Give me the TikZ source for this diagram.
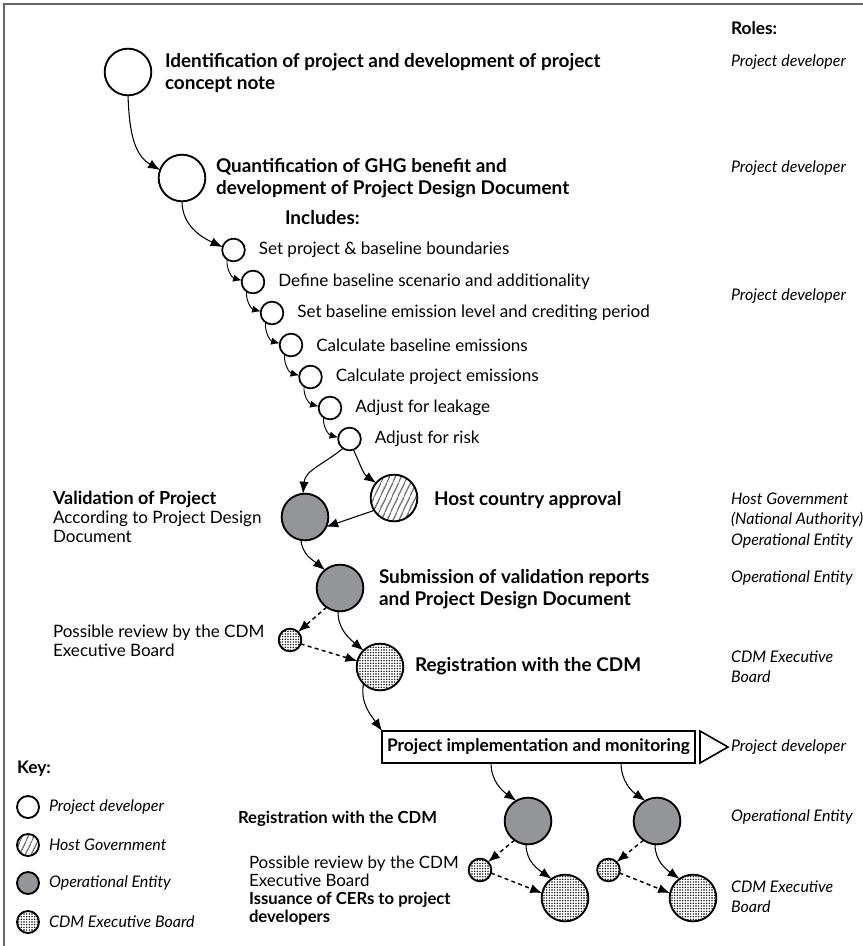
\documentclass[tikz,border=0pt]{standalone}
\usepackage{fontspec}
\setmainfont{Lato}
\usetikzlibrary{arrows.meta,patterns.meta}
\definecolor{opgray}{RGB}{148,149,153}

\begin{document}
\begin{tikzpicture}[x=0.75pt,y=-0.75pt,
  every node/.style={inner sep=0pt,outer sep=0pt},
  dev/.style={draw,circle,line width=1.4pt,fill=white,minimum size=35pt},
  sdev/.style={draw,circle,line width=1.3pt,fill=white,minimum size=17pt},
  gov/.style={draw,circle,line width=1.4pt,pattern={Lines[angle=65,distance=4pt,line width=.7pt]},minimum size=35pt},
  ope/.style={draw,circle,line width=1.4pt,fill=opgray,minimum size=35pt},
  cdm/.style={draw,circle,line width=1.4pt,pattern={Dots[distance=2pt,radius=.6pt]},minimum size=35pt},
  head/.style={anchor=west,align=left,font=\fontsize{14.2}{17}\selectfont\bfseries},
  txt/.style={anchor=west,align=left,font=\fontsize{12.8}{14}\selectfont},
  role/.style={anchor=west,align=left,font=\fontsize{12}{15}\selectfont\itshape},
  flow/.style={-{Latex[length=9pt,width=7pt]},line width=.8pt},
  sflow/.style={-{Latex[length=6.5pt,width=5.5pt]},line width=.7pt},
  dflow/.style={flow,line width=1.1pt,dash pattern=on 3pt off 2.5pt}]
  \useasboundingbox (0,0) rectangle (863,946);
  \draw[line width=1pt,black!60] (4,946) -- (4,4) -- (863,4);

  % roles column
  \node[head,font=\fontsize{13}{15}\selectfont\bfseries] (roles) at (731,28) {Roles:};
  \node[role] (r1) at (731,62) {Project developer};
  \node[role] (r2) at (731,168) {Project developer};
  \node[role] (r3) at (731,296) {Project developer};
  \node[role] (r4) at (731,510) {Host Government\\(National Authority)};
  \node[role] (r5) at (731,541) {Operational Entity};
  \node[role] (r6) at (731,578) {Operational Entity};
  \node[role] (r7) at (731,667) {CDM Executive\\Board};
  \node[role] (r9) at (731,817) {Operational Entity};
  \node[role] (r10) at (731,897) {CDM Executive\\Board};

  % project developer steps
  \path (128,72) node[dev] (c1) {} (182,178) node[dev] (c2) {};
  \node[head] (t1) at (165,73) {Identification of project and development of project\\concept note};
  \node[head] (t2) at (216,178) {Quantification of GHG benefit and\\development of Project Design Document};
  \node[head] (inc) at (285,218) {Includes:};
  \path (233.5,250) node[sdev] (s1) {} (253,282) node[sdev] (s2) {}
    (272,313) node[sdev] (s3) {} (291,345) node[sdev] (s4) {}
    (310.5,377) node[sdev] (s5) {} (330,408) node[sdev] (s6) {}
    (349.5,439) node[sdev] (s7) {};
  \node[txt] (l1) at ([xshift=10.5pt]s1.east) {Set project \& baseline boundaries};
  \node[txt] (l2) at ([xshift=10.5pt]s2.east) {Define baseline scenario and additionality};
  \node[txt] (l3) at ([xshift=10.5pt]s3.east) {Set baseline emission level and crediting period};
  \node[txt] (l4) at ([xshift=10.5pt]s4.east) {Calculate baseline emissions};
  \node[txt] (l5) at ([xshift=10.5pt]s5.east) {Calculate project emissions};
  \node[txt] (l6) at ([xshift=10.5pt]s6.east) {Adjust for leakage};
  \node[txt] (l7) at ([xshift=10.5pt]s7.east) {Adjust for risk};
  \draw[flow] (c1.south) to[out=-88,in=150] (c2.160);
  \draw[flow] (c2.south) to[out=-90,in=155] (s1.165);
  \foreach \a/\b in {s1/s2,s2/s3,s3/s4,s4/s5,s5/s6,s6/s7}
    \draw[sflow] (\a.235) to[out=-95,in=165] (\b.172);

  % validation and registration
  \path (305,517) node[ope] (val) {} (394,498) node[gov] (host) {}
    (340,588) node[ope] (sub) {} (290,640) node[cdm,minimum size=17pt] (rev) {}
    (380,667) node[cdm] (reg) {};
  \node[txt] (tval) at (53,517) {\textbf{\fontsize{13.5}{14}\selectfont Validation of Project}\\According to Project Design\\Document};
  \node[head] (thost) at (434,500) {Host country approval};
  \node[head] (tsub) at (379,589) {Submission of validation reports\\and Project Design Document};
  \node[txt] (trev) at (53,641) {Possible review by the CDM\\Executive Board};
  \node[head] (treg) at (415,666) {Registration with the CDM};
  \draw[flow] (s7.235) to[out=-140,in=85] (val.95);
  \draw[flow] (s7.-70) to[out=-65,in=145] (host.140);
  \draw[flow] (host.212) -- (val.-25);
  \draw[flow] (val.-100) to[out=-85,in=140] (sub.130);
  \draw[dflow] (sub.235) -- (rev.45);
  \draw[flow] (sub.-95) to[out=-90,in=140] (reg.135);
  \draw[dflow] (rev.-20) -- (reg.165);

  % implementation
  \node[draw,line width=1.4pt,minimum width=234.75pt,minimum height=24pt,font=\fontsize{13}{15}\selectfont\bfseries] (impl) at (538.5,747) {Project implementation and monitoring};
  \draw[line width=1.2pt] (700,731) -- (728,747) -- (700,763) -- cycle;
  \node[role] (r8) at (731,747) {Project developer};
  \draw[flow] (reg.225) to[out=-100,in=125] (impl.north west);

  % verification and issuance
  \path (528,821) node[ope] (op1) {} (657,821) node[ope] (op2) {}
    (480,870) node[cdm,minimum size=17pt] (rv1) {} (608.5,870) node[cdm,minimum size=17pt] (rv2) {}
    (565,898) node[cdm] (cer1) {} (693,898) node[cdm] (cer2) {};
  \node[head,font=\fontsize{12.5}{14}\selectfont\bfseries] (tver) at (238,819) {Registration with the CDM};
  \node[txt,font=\fontsize{12.7}{13.5}\selectfont] (trv) at (249,871) {Possible review by the CDM\\Executive Board};
  \node[head,font=\fontsize{12.5}{13.5}\selectfont\bfseries] (tcer) at (249,909) {Issuance of CERs to project\\developers};
  \draw[flow] ([xshift=-35.6pt]impl.south) to[out=-90,in=145] (op1.120);
  \draw[flow] ([xshift=61.9pt]impl.south) to[out=-90,in=145] (op2.120);
  \foreach \o/\r/\c in {op1/rv1/cer1,op2/rv2/cer2}{
    \draw[dflow] (\o.235) -- (\r.45);
    \draw[flow] (\o.-95) to[out=-90,in=145] (\c.125);
    \draw[dflow] (\r.-15) -- (\c.168);
  }

  % key
  \node[head,font=\fontsize{13}{15}\selectfont\bfseries] (key) at (17,769) {Key:};
  \path (28,807) node[dev,minimum size=16.5pt] (k1) {} (28,845) node[gov,minimum size=16.5pt] (k2) {}
    (28,883) node[ope,minimum size=16.5pt] (k3) {} (28,922) node[cdm,minimum size=16.5pt] (k4) {};
  \node[role] (kt1) at (49,807) {Project developer};
  \node[role] (kt2) at (49,845) {Host Government};
  \node[role] (kt3) at (49,883) {Operational Entity};
  \node[role] (kt4) at (49,922) {CDM Executive Board};
\end{tikzpicture}
\end{document}
